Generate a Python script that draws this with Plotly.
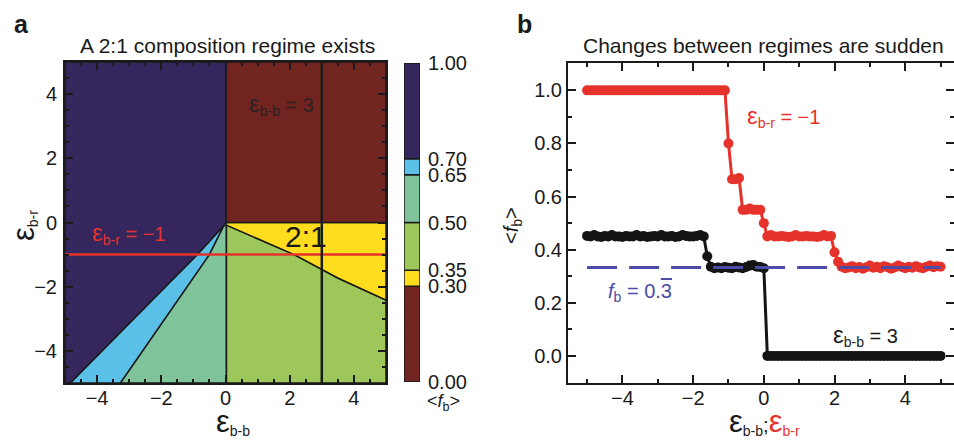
import plotly.graph_objects as go

FONT = "Liberation Sans, Arial, sans-serif"
INK = "#1a1a1a"
RED = "#E5322B"

# ---------------- panel a: composition regimes in the (eps_bb, eps_br) plane ----------------
EPS_BR_CUT = -1   # horizontal cut (red line)
EPS_BB_CUT = 3    # vertical cut (black line)

band_edges = [0.00, 0.30, 0.35, 0.50, 0.65, 0.70, 1.00]
band_colors = ["#722421", "#FEDD1E", "#9DC75B", "#7FC49B", "#5BC0E8", "#35265E"]
band_labels = ["0.00", "0.30", "0.35", "0.50", "0.65", "0.70", "1.00"]

# region outlines (eps_bb, eps_br) and the mean blue fraction inside each
blue_only_x = [-5, 0.02, 0.02, -0.05, -0.87, -4.83, -5]
blue_only_y = [5, 5, 0, -0.1, -1, -5, -5]
blue_only_fb = 1.0

mixed_hi_x = [-0.05, -0.87, -4.83, -3.27, -0.5]
mixed_hi_y = [-0.1, -1, -5, -5, -1]
mixed_hi_fb = 0.67

mixed_mid_x = [-0.05, -0.5, -3.27, 0.03, 0.03]
mixed_mid_y = [-0.1, -1, -5, -5, -0.1]
mixed_mid_fb = 0.55

mixed_lo_x = [0.03, 2.14, 3.5, 5, 5, 0.03]
mixed_lo_y = [-0.08, -1.0, -1.73, -2.42, -5, -5]
mixed_lo_fb = 0.45

two_one_x = [0.03, 5, 5, 3.5, 2.14, 0.03]
two_one_y = [0, 0, -2.42, -1.73, -1.0, -0.08]
two_one_fb = 0.33

red_only_x = [0.02, 5, 5, 0.02]
red_only_y = [0, 0, 5, 5]
red_only_fb = 0.0

regions = [
    (blue_only_x, blue_only_y, blue_only_fb),
    (mixed_hi_x, mixed_hi_y, mixed_hi_fb),
    (mixed_mid_x, mixed_mid_y, mixed_mid_fb),
    (mixed_lo_x, mixed_lo_y, mixed_lo_fb),
    (two_one_x, two_one_y, two_one_fb),
    (red_only_x, red_only_y, red_only_fb),
]

# ---------------- panel b: cuts through the map ----------------
eps = [round(-5 + 0.1 * i, 1) for i in range(101)]

fb_cut_br = (
    [1.0] * 40
    + [0.80]
    + [0.665, 0.665, 0.67]
    + [0.55, 0.55, 0.555, 0.55, 0.55, 0.55]
    + [0.50]
    + [0.45, 0.455, 0.45, 0.45, 0.452, 0.45, 0.448, 0.45, 0.455, 0.45,
       0.45, 0.452, 0.45, 0.45, 0.448, 0.45, 0.455, 0.45, 0.452]
    + [0.39, 0.355]
    + [0.336, 0.33, 0.333, 0.338, 0.33, 0.335, 0.328, 0.334, 0.34, 0.332,
       0.336, 0.33, 0.338, 0.334, 0.328, 0.333, 0.34, 0.335, 0.33, 0.336,
       0.332, 0.338, 0.333, 0.33, 0.336, 0.34, 0.334, 0.338, 0.336]
)

fb_cut_bb = (
    [0.452, 0.45, 0.455, 0.45, 0.448, 0.452, 0.45, 0.455, 0.45, 0.45,
     0.448, 0.452, 0.45, 0.45, 0.455, 0.45, 0.452, 0.448, 0.45, 0.452,
     0.45, 0.455, 0.45, 0.45, 0.452, 0.448, 0.45, 0.455, 0.452, 0.45,
     0.45, 0.452, 0.455, 0.45]
    + [0.375]
    + [0.336, 0.33, 0.333, 0.33, 0.335, 0.332, 0.33, 0.336, 0.333, 0.33,
       0.335, 0.34, 0.342, 0.336, 0.335]
    + [0.33]
    + [0.0] * 50
)

FB_TARGET = 1 / 3


def band_color(v):
    for lo, hi, c in zip(band_edges[:-1], band_edges[1:], band_colors):
        if lo <= v < hi:
            return c
    return band_colors[-1]


fig = go.Figure()

for rx, ry, fb in regions:
    fig.add_trace(go.Scatter(
        x=rx + [rx[0]], y=ry + [ry[0]], mode="lines", fill="toself",
        fillcolor=band_color(fb), line=dict(color=INK, width=1.5),
        hoverinfo="skip", showlegend=False, xaxis="x", yaxis="y"))

fig.add_trace(go.Scatter(
    x=[-5, 5], y=[EPS_BR_CUT, EPS_BR_CUT], mode="lines",
    line=dict(color=RED, width=2.5), showlegend=False, xaxis="x", yaxis="y"))
fig.add_trace(go.Scatter(
    x=[EPS_BB_CUT, EPS_BB_CUT], y=[-5, 5], mode="lines",
    line=dict(color=INK, width=2.5), showlegend=False, xaxis="x", yaxis="y"))

# colour key drawn as stacked bands
fig.add_trace(go.Bar(
    x=[0] * (len(band_edges) - 1),
    y=[hi - lo for lo, hi in zip(band_edges[:-1], band_edges[1:])],
    base=band_edges[:-1], width=1, marker=dict(color=band_colors, line=dict(color=INK, width=1.5)),
    showlegend=False, hoverinfo="skip", xaxis="x3", yaxis="y3"))

# cut series
fig.add_trace(go.Scatter(
    x=eps, y=fb_cut_bb, mode="lines+markers",
    line=dict(color="#141414", width=3), marker=dict(color="#141414", size=10),
    showlegend=False, xaxis="x2", yaxis="y2"))
fig.add_trace(go.Scatter(
    x=eps, y=fb_cut_br, mode="lines+markers",
    line=dict(color=RED, width=3), marker=dict(color=RED, size=10),
    showlegend=False, xaxis="x2", yaxis="y2"))
fig.add_trace(go.Scatter(
    x=[-5, 5], y=[FB_TARGET, FB_TARGET], mode="lines",
    line=dict(color="#4B4BA8", width=3, dash="30px,12px"),
    showlegend=False, xaxis="x2", yaxis="y2"))

W, H = 954, 441


def px(x):
    return x / W


def py(y):
    return 1 - y / H


axis_common = dict(
    showline=True, linecolor=INK, linewidth=2, mirror="ticks",
    ticks="inside", ticklen=8, tickwidth=1.5, tickcolor=INK,
    showgrid=False, zeroline=False,
    tickfont=dict(family=FONT, size=20, color=INK),
    automargin=False,
)
minor_style = dict(ticks="inside", ticklen=4, tickwidth=1.5, tickcolor=INK)

fig.update_layout(
    width=W, height=H, margin=dict(l=0, r=0, t=0, b=0),
    paper_bgcolor="white", plot_bgcolor="white",
    font=dict(family=FONT, size=20, color=INK),
    barmode="overlay",
    xaxis=dict(domain=[px(65), px(386)], range=[-5, 5], dtick=2, tick0=0,
               minor=dict(dtick=0.5, **minor_style), ticklabelstandoff=-4,
               anchor="y", **axis_common),
    yaxis=dict(domain=[py(383), py(62)], range=[-5, 5], dtick=2, tick0=0,
               minor=dict(dtick=0.5, **minor_style), ticklabelstandoff=2,
               anchor="x", **axis_common),
    xaxis2=dict(domain=[px(568), 1.0], range=[-5.54, 5.38], dtick=2, tick0=0,
                minor=dict(dtick=1, **minor_style), ticklabelstandoff=-4,
                anchor="y2", **axis_common),
    yaxis2=dict(domain=[py(383), py(63)], range=[-0.102, 1.103], dtick=0.2, tick0=0,
                tickformat=".1f", minor=dict(dtick=0.1, **minor_style),
                anchor="x2", **axis_common),
    xaxis3=dict(domain=[px(404), px(420)], range=[-0.5, 0.5], visible=False, anchor="y3",
                fixedrange=True),
    yaxis3=dict(domain=[py(382), py(63)], range=[0, 1], anchor="x3", side="right",
                tickvals=band_edges, ticktext=band_labels, ticks="", showline=False,
                showgrid=False, zeroline=False, automargin=False, ticklabelstandoff=7,
                tickfont=dict(family=FONT, size=20, color=INK)),
)

EPS = "<span style='font-size:31px'>ε</span>"


def ann(text, x, y, xref="paper", yref="paper", size=20, color=INK, **kw):
    fig.add_annotation(text=text, x=x, y=y, xref=xref, yref=yref, showarrow=False,
                       xanchor="center", yanchor="middle",
                       font=dict(family=FONT, size=size, color=color), **kw)


# panel letters and titles
ann("<b>a</b>", px(21), py(24), size=25)
ann("<b>b</b>", px(524), py(24), size=25)
ann("A 2:1 composition regime exists", px(227), py(45), size=21)
ann("Changes between regimes are sudden", px(763), py(45), size=21)

# axis titles
ann(EPS + "<sub>b-b</sub>", px(233), py(421))
ann(EPS + "<sub>b-r</sub>", px(23), py(226), textangle=-90)
ann(EPS + "<sub>b-b</sub>;<span style='color:%s'>" % RED + EPS + "<sub>b-r</sub></span>",
    px(764), py(421))
ann("&lt;<i>f</i><sub>b</sub>&gt;", px(512), py(226), textangle=-90)
ann("&lt;<i>f</i><sub>b</sub>&gt;", px(443), py(402), size=18)

# labels inside panel a
ann("<span style='font-size:24px'>ε</span><sub>b-b</sub> = %d" % EPS_BB_CUT, 1.75, 3.68,
    xref="x", yref="y", color="#2b2222")
ann("2:1", 2.52, -0.44, xref="x", yref="y", size=30)
ann("<span style='font-size:24px'>ε</span><sub>b-r</sub> = −%d" % abs(EPS_BR_CUT), -3.03, -0.33,
    xref="x", yref="y", color=RED)

# labels inside panel b
ann("<span style='font-size:24px'>ε</span><sub>b-r</sub> = −%d" % abs(EPS_BR_CUT), 0.55, 0.90,
    xref="x2", yref="y2", color=RED)
ann("<i>f</i><sub>b</sub> = 0.<span style='text-decoration:overline'>3</span>", -3.51, 0.24,
    xref="x2", yref="y2", color="#4B4BA8")
ann("<span style='font-size:24px'>ε</span><sub>b-b</sub> = %d" % EPS_BB_CUT, 2.89, 0.078,
    xref="x2", yref="y2")

fig.write_html("out.html")
